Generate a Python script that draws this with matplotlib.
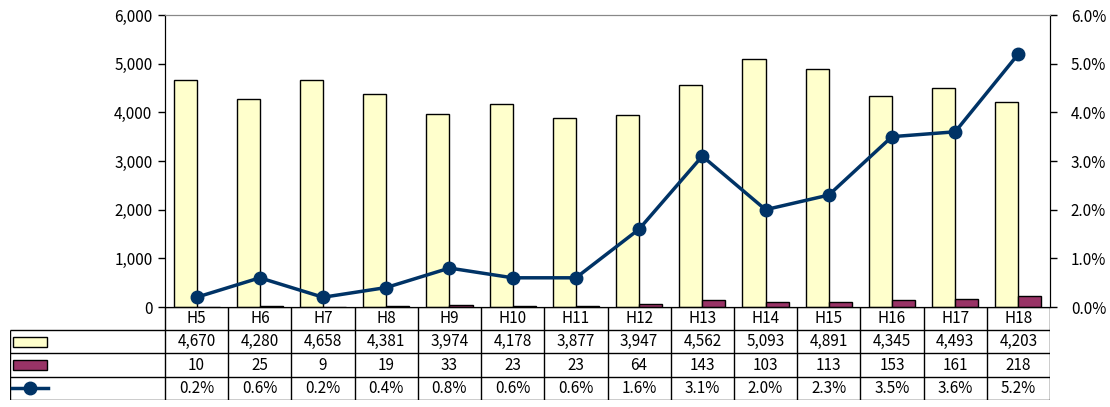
import numpy as np
import matplotlib.pyplot as plt
from matplotlib.patches import Rectangle
from matplotlib.lines import Line2D

years = ["H5", "H6", "H7", "H8", "H9", "H10", "H11", "H12", "H13", "H14", "H15", "H16", "H17", "H18"]
total = [4670, 4280, 4658, 4381, 3974, 4178, 3877, 3947, 4562, 5093, 4891, 4345, 4493, 4203]
sub = [10, 25, 9, 19, 33, 23, 23, 64, 143, 103, 113, 153, 161, 218]
rate = [0.2, 0.6, 0.2, 0.4, 0.8, 0.6, 0.6, 1.6, 3.1, 2.0, 2.3, 3.5, 3.6, 5.2]

YELLOW = "#FFFFCC"
MAROON = "#993366"
NAVY = "#003366"

plt.rcParams["font.family"] = ["Noto Sans CJK JP", "DejaVu Sans"]
FS = 11

W, H = 1110, 407
fig = plt.figure(figsize=(W / 100, H / 100), dpi=100)

# plot area in pixels
L, R, T, B = 165, 1050, 15, 307
ax = fig.add_axes([L / W, 1 - B / H, (R - L) / W, (B - T) / H])
ax2 = ax.twinx()

x = np.arange(len(years))
bw = 0.365
ax.bar(x - bw / 2, total, bw, color=YELLOW, edgecolor="black", linewidth=1.0, zorder=2)
ax.bar(x + bw / 2, sub, bw, color=MAROON, edgecolor="black", linewidth=1.0, zorder=2)
ax.set_xlim(-0.5, len(years) - 0.5)
ax.set_ylim(0, 6000)
ax.set_yticks(np.arange(0, 6001, 1000))
ax.set_yticklabels([f"{v:,}" for v in range(0, 6001, 1000)], fontsize=FS)
ax.set_xticks([])
ax.tick_params(axis="y", direction="out", length=5, width=1, pad=4)

ax2.plot(x, rate, color=NAVY, lw=2.5, marker="o", markersize=9, zorder=5)
ax2.set_ylim(0, 6)
ax2.set_yticks(np.arange(0, 6.1, 1))
ax2.set_yticklabels([f"{v:.1f}%" for v in range(7)], fontsize=FS)
ax2.tick_params(axis="y", direction="out", length=5, width=1, pad=10)

for a in (ax, ax2):
    a.spines["top"].set_color("#888888")
    a.spines["left"].set_color("black")
    a.spines["right"].set_color("black")
    a.spines["bottom"].set_color("black")

# data table below the chart
TL, TB = 10, 400
tax = fig.add_axes([TL / W, 1 - TB / H, (R - TL) / W, (TB - B) / H])
tax.set_xlim(TL, R)
tax.set_ylim(TB, B)
tax.axis("off")

rows_y = np.linspace(B, TB, 5)
cw = (R - L) / len(years)
kw = dict(color="black", lw=1.0, solid_capstyle="butt")

# horizontal lines
tax.plot([L, R], [rows_y[0], rows_y[0]], **kw)
for yy in rows_y[1:]:
    tax.plot([TL, R], [yy, yy], **kw)
# vertical lines
for i in range(len(years) + 1):
    tax.plot([L + i * cw, L + i * cw], [rows_y[0], rows_y[-1]], **kw)
tax.plot([TL, TL], [rows_y[1], rows_y[-1]], **kw)

row_text = [years,
            [f"{v:,}" for v in total],
            [str(v) for v in sub],
            [f"{v:.1f}%" for v in rate]]
for r, labels in enumerate(row_text):
    yc = (rows_y[r] + rows_y[r + 1]) / 2
    for i, s in enumerate(labels):
        tax.text(L + (i + 0.5) * cw, yc, s, ha="center", va="center", fontsize=FS)

# legend keys in the left column
for r, c in ((1, YELLOW), (2, MAROON)):
    yc = (rows_y[r] + rows_y[r + 1]) / 2
    tax.add_patch(Rectangle((13, yc - 5), 34, 10, facecolor=c, edgecolor="black", lw=1.0))
yc = (rows_y[3] + rows_y[4]) / 2
tax.add_line(Line2D([12, 48], [yc, yc], color=NAVY, lw=2.5))
tax.plot([30], [yc], marker="o", color=NAVY, markersize=9)

fig.savefig("out.png", dpi=100)
